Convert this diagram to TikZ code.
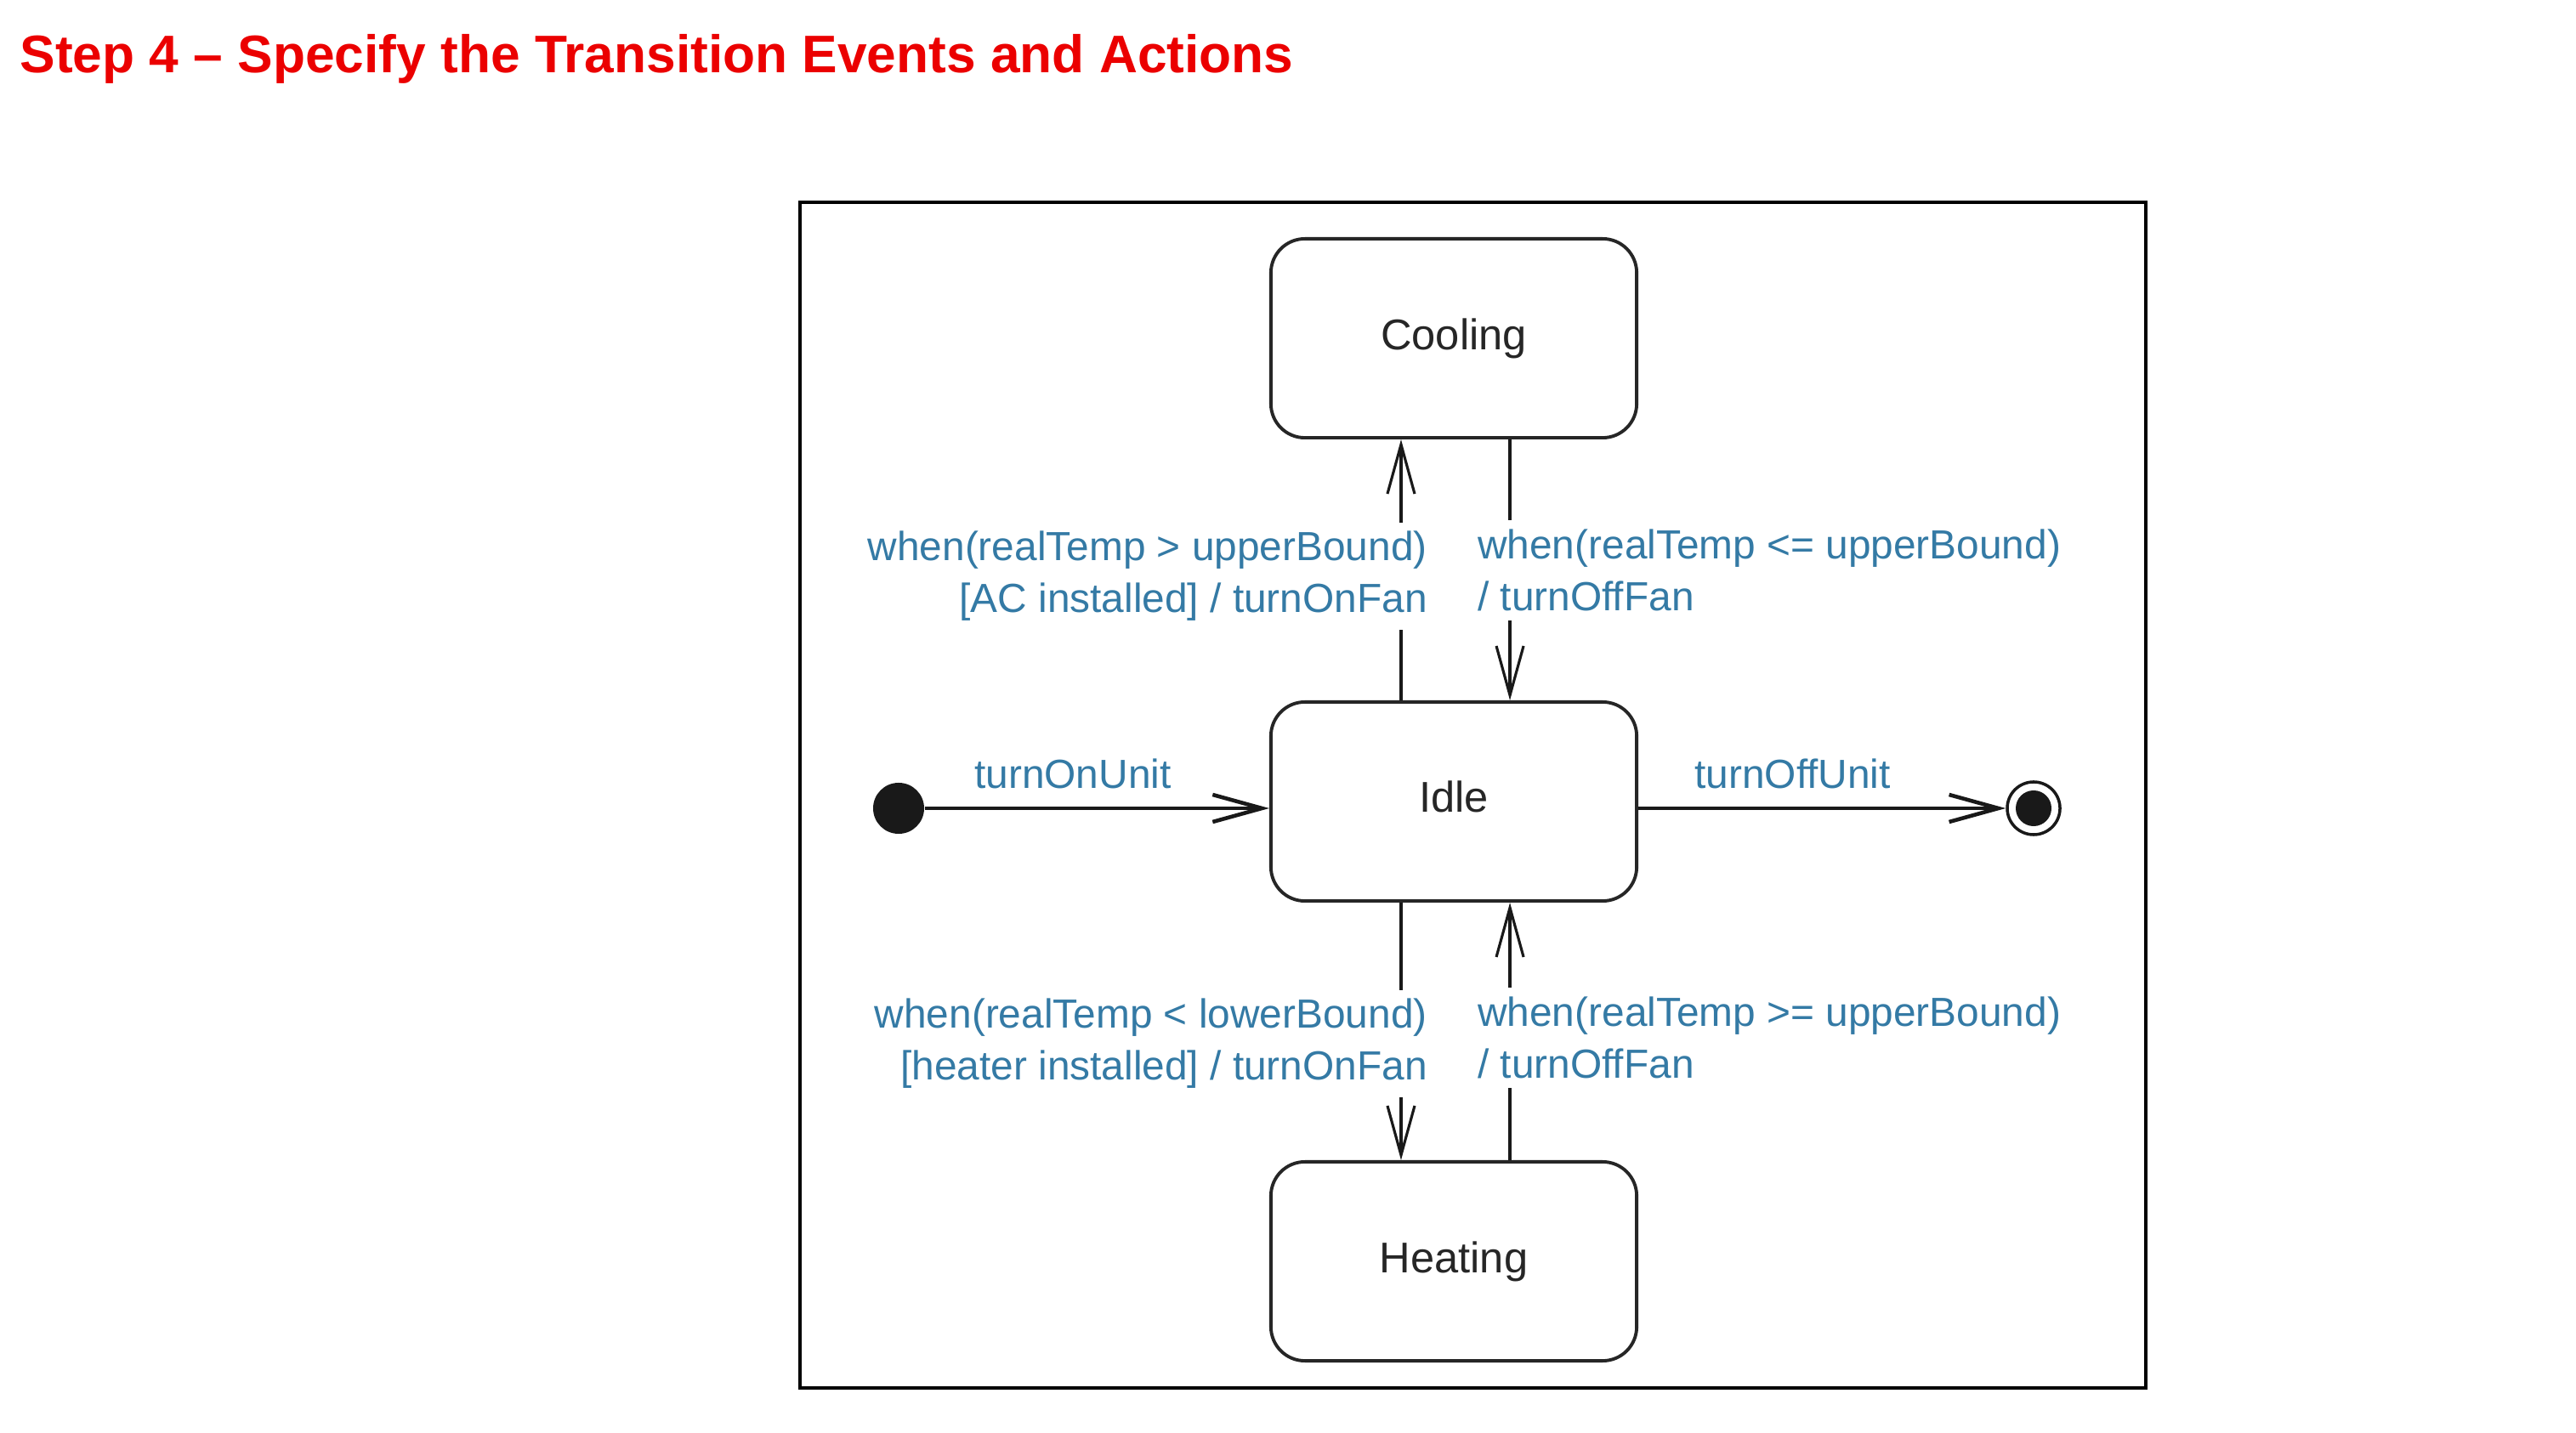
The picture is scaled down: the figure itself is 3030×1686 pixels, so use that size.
\documentclass[tikz,border=0pt]{standalone}
\usepackage{fontspec}
\setmainfont{Liberation Sans}
\usepackage{tikz}
\usetikzlibrary{positioning,calc,arrows.meta}
\usepackage{xcolor}
\definecolor{stepred}{RGB}{235,0,0}
\definecolor{evblue}{RGB}{52,122,165}

\begin{document}
\begin{tikzpicture}[
    x=0.01cm, y=-0.01cm,
    state/.style={draw=black!85, line width=1.1pt, rounded corners=0.4cm, minimum width=4.3cm, minimum height=2.34cm, font=\fontsize{14.4}{17}\selectfont, text=black!85},
    trans/.style={-{Straight Barb[length=0.58cm, width=0.32cm]}, line width=0.9pt, black!90},
    evt/.style={font=\fontsize{13.6}{17.4}\selectfont, text=evblue, fill=white, inner sep=3pt},
    frame/.style={draw=black, line width=1pt},
]
\useasboundingbox (0,0) rectangle (3030,1686);
\node[anchor=base west, inner sep=0, text=stepred, font=\fontsize{17.7}{21}\selectfont\bfseries] (title) at (23,86) {Step 4 – Specify the Transition Events and Actions};
\draw[frame] (941,238) rectangle (2524,1633);
\node[state] (cool) at (1710,398) {Cooling};
\node[state] (idle) at (1710,943) {\raisebox{0.12cm}{Idle}};
\node[state] (heat) at (1710,1484) {\raisebox{-0.05cm}{Heating}};
\node[circle, fill=black!90, minimum size=0.6cm, inner sep=0] (init) at (1057,951) {};
\node[circle, draw=black!90, line width=1pt, minimum size=0.62cm, inner sep=0] (final) at (2392,951) {};
\node[circle, fill=black!90, minimum size=0.42cm, inner sep=0] (finaldot) at (final) {};
\draw[trans, line width=1.3pt] (init) -- (init -| idle.west) node[evt, above=3pt, pos=0.43] (lblon) {turnOnUnit};
\draw[trans, line width=1.3pt] (idle.east |- final) -- (final) node[evt, above=3pt, pos=0.42] (lbloff) {turnOffUnit};
\draw[trans] ([xshift=-0.62cm]idle.north) -- ([xshift=-0.62cm]cool.south);
\draw[trans] ([xshift=0.66cm]cool.south) -- ([xshift=0.66cm]idle.north);
\draw[trans] ([xshift=-0.62cm]idle.south) -- ([xshift=-0.62cm]heat.north);
\draw[trans] ([xshift=0.66cm]heat.north) -- ([xshift=0.66cm]idle.south);
\node[evt, anchor=east, align=right] (lblcool) at (1690,678) {when(realTemp > upperBound)\\{[AC installed] / turnOnFan}};
\node[evt, anchor=west, align=left] (lblcoolend) at (1727,671) {when(realTemp <= upperBound)\\/ turnOffFan};
\node[evt, anchor=east, align=right] (lblheat) at (1690,1228) {when(realTemp < lowerBound)\\{[heater installed] / turnOnFan}};
\node[evt, anchor=west, align=left] (lblheatend) at (1727,1221) {when(realTemp >= upperBound)\\/ turnOffFan};
\end{tikzpicture}
\end{document}
